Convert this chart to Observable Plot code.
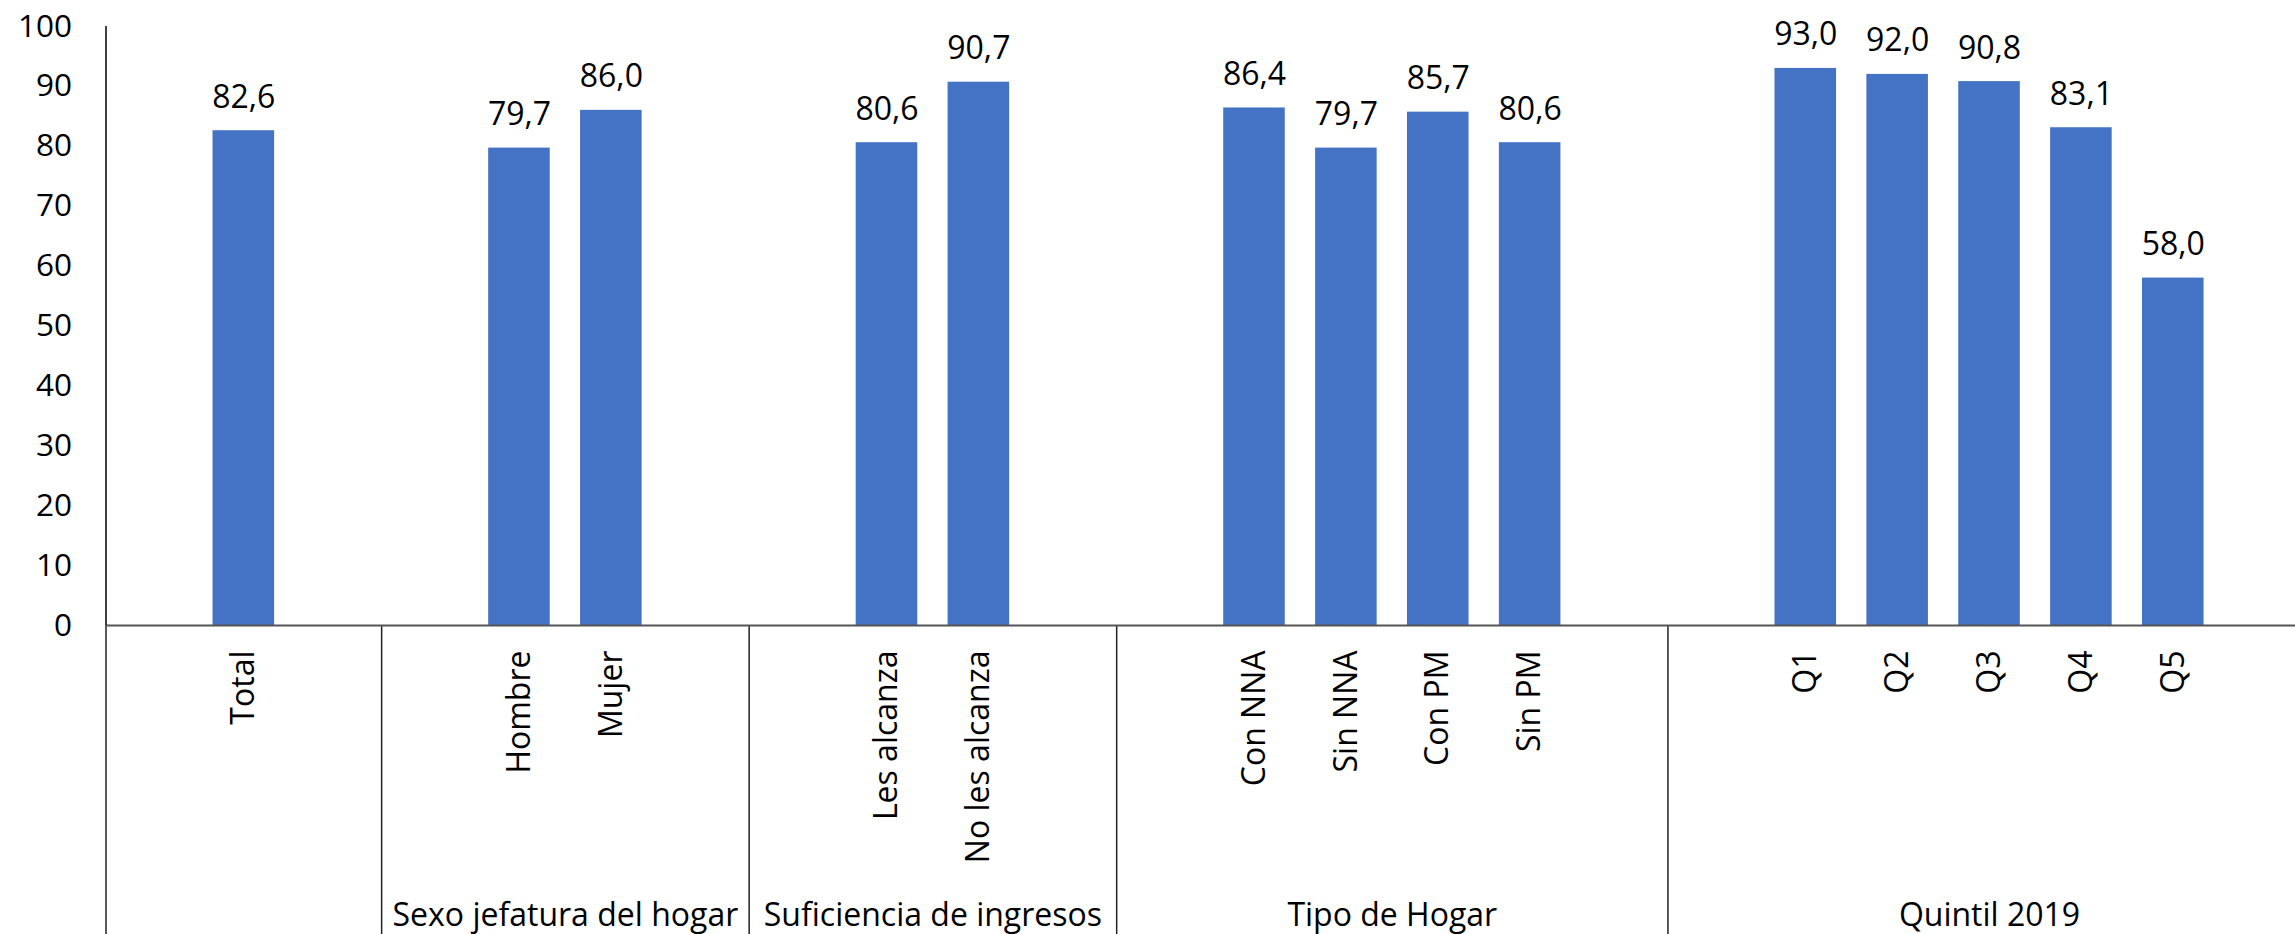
<!DOCTYPE html>
<html>
<head>
<meta charset="utf-8">
<script src="https://cdn.jsdelivr.net/npm/d3@7"></script>
<script src="https://cdn.jsdelivr.net/npm/@observablehq/plot@0.6"></script>
<style>
  html, body { margin: 0; padding: 0; background: #fff; }
  svg { display: block; }
</style>
</head>
<body>
<div id="chart"></div>
<script>
// ---- data ----
const groups = ["", "Sexo jefatura del hogar", "Suficiencia de ingresos", "Tipo de Hogar", "Quintil 2019"];
const categories = ["Total", "Hombre", "Mujer", "Les alcanza", "No les alcanza", "Con NNA", "Sin NNA", "Con PM", "Sin PM", "Q1", "Q2", "Q3", "Q4", "Q5"];
const groupOf = [0, 1, 1, 2, 2, 3, 3, 3, 3, 4, 4, 4, 4, 4];
const values = [82.6, 79.7, 86.0, 80.6, 90.7, 86.4, 79.7, 85.7, 80.6, 93.0, 92.0, 90.8, 83.1, 58.0];
const yTicks = [0, 10, 20, 30, 40, 50, 60, 70, 80, 90, 100];

// ---- slot layout (each group: blank slot, its categories, blank slot) ----
const data = [];
const boundaries = [];
const groupSpans = [];
let cursor = 0;
groups.forEach((g, gi) => {
  const start = cursor;
  boundaries.push(start);
  cursor++; // leading blank
  categories.forEach((c, i) => {
    if (groupOf[i] === gi) {
      data.push({category: c, value: values[i], slot: cursor});
      cursor++;
    }
  });
  cursor++; // trailing blank
  groupSpans.push({name: g, start, end: cursor});
});
const nSlots = cursor;
const pad = 0.165;
data.forEach(d => { d.x1 = d.slot + pad; d.x2 = d.slot + 1 - pad; d.xc = d.slot + 0.5; });

const catByCenter = new Map(data.map(d => [d.xc, d.category]));
const groupByCenter = new Map(groupSpans.filter(g => g.name).map(g => [(g.start + g.end) / 2, g.name]));
const fmt = v => v.toFixed(1).replace(".", ",");

const FONT = "'Open Sans', 'Noto Sans', sans-serif";

const chart = Plot.plot({
  width: 2295,
  height: 934,
  marginLeft: 105.5,
  marginRight: 0,
  marginTop: 26,
  marginBottom: 309,
  x: {type: "linear", domain: [0, nSlots], range: [105.5, 2310.6]},
  y: {domain: [0, 100], range: [625, 26]},
  style: {fontFamily: FONT, background: "#fff", color: "#000"},
  marks: [
    Plot.rect(data, {x1: "x1", x2: "x2", y1: 0, y2: "value", fill: "#4472C4"}),
    Plot.text(data, {x: "xc", y: "value", text: d => fmt(d.value), dy: -23, lineAnchor: "bottom", fontSize: 32, fill: "#000"}),
    Plot.axisX({ticks: boundaries, tickSize: 309, tickFormat: () => "", stroke: "#222", strokeWidth: 1.5, label: null}),
    Plot.axisX({ticks: [...catByCenter.keys()], tickFormat: d => catByCenter.get(d), tickRotate: -90, tickSize: 0, tickPadding: 25, fontSize: 32, label: null}),
    Plot.axisX({ticks: [...groupByCenter.keys()], tickFormat: d => groupByCenter.get(d), tickSize: 0, tickPadding: 278, fontSize: 32, label: null}),
    Plot.axisY({ticks: yTicks, tickSize: 0, tickPadding: 34, fontSize: 31.5, label: null}),
    Plot.ruleY([0], {stroke: "#555", strokeWidth: 2}),
    Plot.ruleX([0], {y1: 0, y2: 100, stroke: "#000", strokeWidth: 1.5})
  ]
});
document.getElementById("chart").appendChild(chart);
</script>
</body>
</html>
